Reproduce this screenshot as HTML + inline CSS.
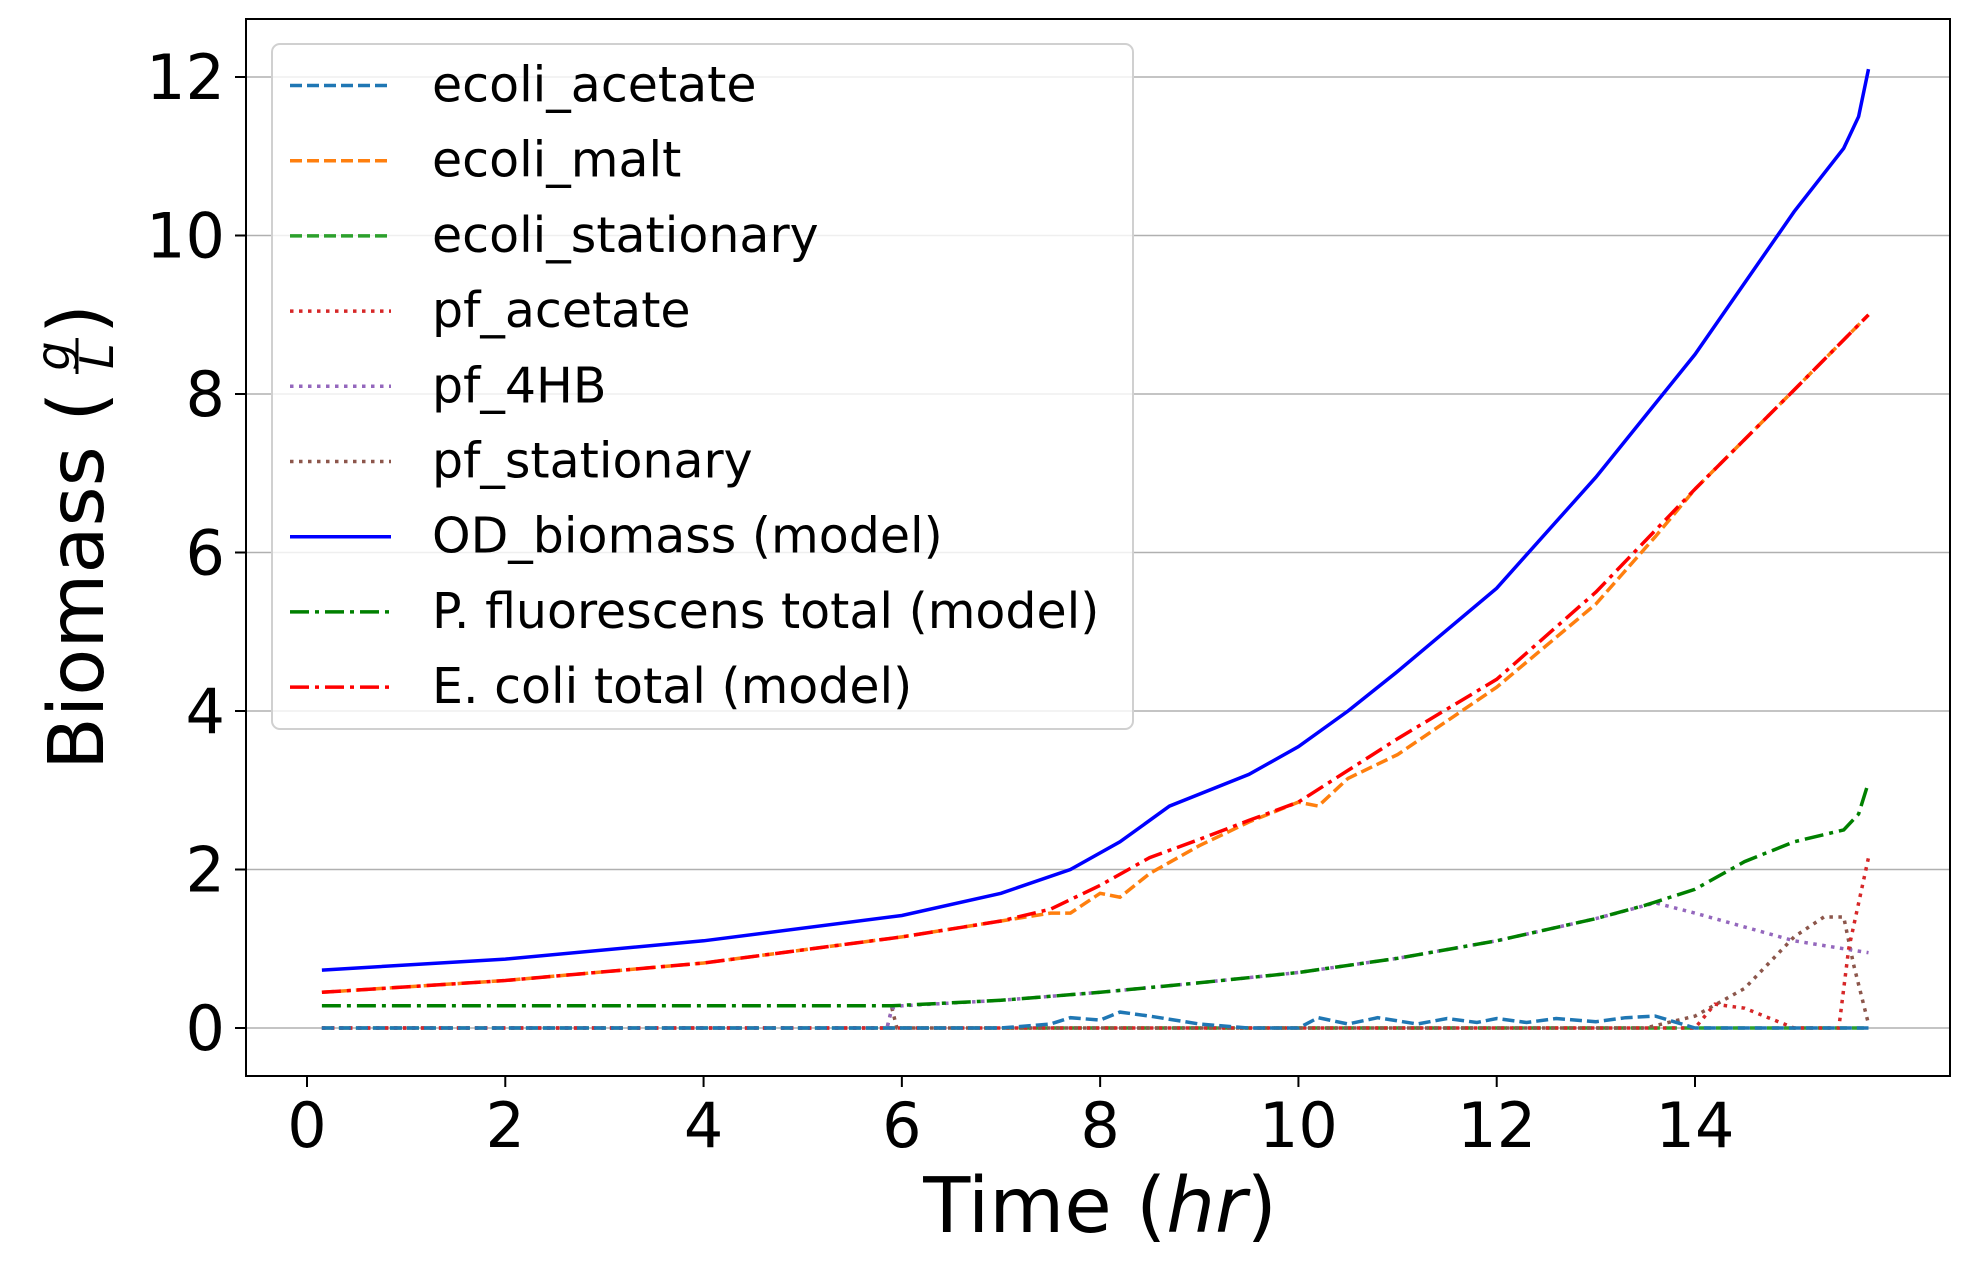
<!DOCTYPE html>
<html><head><meta charset="utf-8"><style>
html,body{margin:0;padding:0;background:#fff;}
svg{display:block;font-family:"DejaVu Sans","Liberation Sans",sans-serif;}
</style></head><body>
<svg id="chart" width="1971" height="1269" viewBox="0 0 1971 1269" xmlns="http://www.w3.org/2000/svg">
<rect x="0" y="0" width="1971" height="1269" fill="#fff"/>
<g id="grid"></g>
<g id="series"></g>
<rect x="246" y="19" width="1704" height="1057" fill="none" stroke="#000" stroke-width="2"/>
<g id="ticks"></g>
<text x="1100" y="1232" font-size="77" text-anchor="middle">Time (<tspan font-style="italic">hr</tspan>)</text>
<g transform="translate(103,0) rotate(-90)">
<text x="-770" y="0" font-size="77">Biomass (</text>
<text x="-356" y="-34" font-size="46" font-style="italic" text-anchor="middle">g</text>
<line x1="-374" y1="-26" x2="-338" y2="-26" stroke="#000" stroke-width="3"/>
<text x="-356" y="10" font-size="46" font-style="italic" text-anchor="middle">L</text>
<text x="-334" y="0" font-size="77">)</text>
</g>
<g id="legend"></g>
</svg>
<script>
const odT=[0.15,2,4,6,7,7.7,8.2,8.7,9.5,10,10.5,11,12,13,14,15,15.5,15.65,15.75];
const odV=[0.73,0.87,1.1,1.42,1.7,2.0,2.35,2.8,3.2,3.55,4.0,4.5,5.55,6.95,8.5,10.3,11.1,11.5,12.1];
const ecT=[0.15,2,4,6,7,7.5,8,8.5,9,9.5,10,10.5,11,12,13,14,15,15.75];
const ecV=[0.45,0.6,0.82,1.15,1.35,1.5,1.8,2.15,2.38,2.62,2.85,3.25,3.65,4.4,5.5,6.8,8.05,9.0];
const malT=[0.15,2,4,6,7,7.5,7.7,8,8.2,8.5,9,9.5,10,10.2,10.5,11,12,13,13.6,14,15,15.75];
const malV=[0.45,0.6,0.82,1.15,1.35,1.45,1.45,1.7,1.65,1.95,2.3,2.6,2.85,2.8,3.15,3.45,4.3,5.35,6.2,6.8,8.05,9.0];
const acT=[0.15,7,7.5,7.7,8,8.2,8.5,9,9.5,10,10.2,10.5,10.8,11.2,11.5,11.8,12,12.3,12.6,13,13.3,13.6,14,15.75];
const acV=[0,0,0.05,0.13,0.1,0.2,0.15,0.05,0,0,0.13,0.05,0.13,0.05,0.12,0.07,0.12,0.07,0.12,0.08,0.13,0.15,0,0];
const stT=[0.15,15.75];
const stV=[0,0];
const pfT=[0.15,5.9,7,8,9,10,11,12,13,13.5,14,14.5,15,15.5,15.65,15.75];
const pfV=[0.28,0.28,0.35,0.45,0.57,0.7,0.88,1.1,1.38,1.55,1.75,2.1,2.35,2.5,2.7,3.1];
const hbT=[0.15,5.85,5.9,6,7,8,9,10,11,12,13,13.6,14,15,15.75];
const hbV=[0,0,0.25,0.28,0.35,0.45,0.57,0.7,0.88,1.1,1.38,1.58,1.45,1.1,0.95];
const psT=[0.15,5.85,5.9,5.95,13.5,14,14.5,15,15.3,15.5,15.6,15.75];
const psV=[0,0,0.25,0,0,0.15,0.5,1.15,1.4,1.4,0.8,0.05];
const paT=[0.15,14,14.2,14.5,15,15.45,15.55,15.75];
const paV=[0,0,0.3,0.25,0,0,1.0,2.15];
const xTicks=[0,2,4,6,8,10,12,14];
const yTicks=[0,2,4,6,8,10,12];
const legendLabels=["ecoli_acetate","ecoli_malt","ecoli_stationary","pf_acetate","pf_4HB","pf_stationary","OD_biomass (model)","P. fluorescens total (model)","E. coli total (model)"];

const NS="http://www.w3.org/2000/svg";
const X=t=>307+t*(1695-307)/14;
const Y=v=>1028-v*(1028-77)/12;
const DASH="12,5", DOT="3.5,5.5", DD="19,6,4,6";
const styles=[
 {c:"#1f77b4",d:DASH,w:3.5},{c:"#ff7f0e",d:DASH,w:3.5},{c:"#2ca02c",d:DASH,w:3.5},
 {c:"#d62728",d:DOT,w:3.5},{c:"#9467bd",d:DOT,w:3.5},{c:"#8c564b",d:DOT,w:3.5},
 {c:"#0000ff",d:"",w:3.5},{c:"#008000",d:DD,w:3.5},{c:"#ff0000",d:DD,w:3.5}];
const data=[[acT,acV],[malT,malV],[stT,stV],[paT,paV],[hbT,hbV],[psT,psV],[odT,odV],[pfT,pfV],[ecT,ecV]];
const names=["ecoli-acetate-line","ecoli-malt-line","ecoli-stationary-line","pf-acetate-line","pf-4hb-line","pf-stationary-line","od-biomass-line","pf-total-line","ecoli-total-line"];
const order=[2,5,4,3,0,7,1,8,6];
const grid=document.getElementById('grid');
yTicks.forEach(v=>{const l=document.createElementNS(NS,'line');


l.setAttribute('x1',246);l.setAttribute('x2',1950);l.setAttribute('y1',Y(v));l.setAttribute('y2',Y(v));
l.setAttribute('stroke','#b0b0b0');l.setAttribute('stroke-width',1.5);grid.appendChild(l);});
const sg=document.getElementById('series');
order.forEach(i=>{const [T,V]=data[i];const p=document.createElementNS(NS,'path');


p.setAttribute('d',T.map((t,k)=>(k?'L':'M')+X(t).toFixed(1)+','+Y(V[k]).toFixed(1)).join(''));
p.setAttribute('fill','none');p.setAttribute('stroke',styles[i].c);p.setAttribute('stroke-width',styles[i].w);
if(styles[i].d)p.setAttribute('stroke-dasharray',styles[i].d);sg.appendChild(p);});
const tk=document.getElementById('ticks');
function add(tag,attrs,txt){const e=document.createElementNS(NS,tag);for(const k in attrs)e.setAttribute(k,attrs[k]);if(txt!==undefined)e.textContent=txt;tk.appendChild(e);return e;}
xTicks.forEach(t=>{const a=add('line',{x1:X(t),x2:X(t),y1:1076,y2:1087,stroke:'#000','stroke-width':2});


const b=add('text',{x:X(t),y:1147,'font-size':62,'text-anchor':'middle'},t);

});
yTicks.forEach(v=>{const a=add('line',{x1:235,x2:246,y1:Y(v),y2:Y(v),stroke:'#000','stroke-width':2});


const b=add('text',{x:225,y:Y(v)+22,'font-size':62,'text-anchor':'end'},v);

});
const lg=document.getElementById('legend');
const box=document.createElementNS(NS,'rect');


box.setAttribute('x',272);box.setAttribute('y',44);box.setAttribute('width',861);box.setAttribute('height',685);box.setAttribute('rx',8);
box.setAttribute('fill','#fff');box.setAttribute('fill-opacity','0.8');box.setAttribute('stroke','#d0d0d0');box.setAttribute('stroke-width',2);lg.appendChild(box);
legendLabels.forEach((s,i)=>{const y=85.5+i*75.2;const g=document.createElementNS(NS,'g');


const l=document.createElementNS(NS,'line');l.setAttribute('x1',290);l.setAttribute('x2',391);l.setAttribute('y1',y);l.setAttribute('y2',y);
l.setAttribute('stroke',styles[i].c);l.setAttribute('stroke-width',3.5);if(styles[i].d)l.setAttribute('stroke-dasharray',styles[i].d);
const t=document.createElementNS(NS,'text');t.setAttribute('x',432);t.setAttribute('y',y+16);t.setAttribute('font-size',49);t.textContent=s;
g.appendChild(l);g.appendChild(t);lg.appendChild(g);});
</script>
</body></html>
